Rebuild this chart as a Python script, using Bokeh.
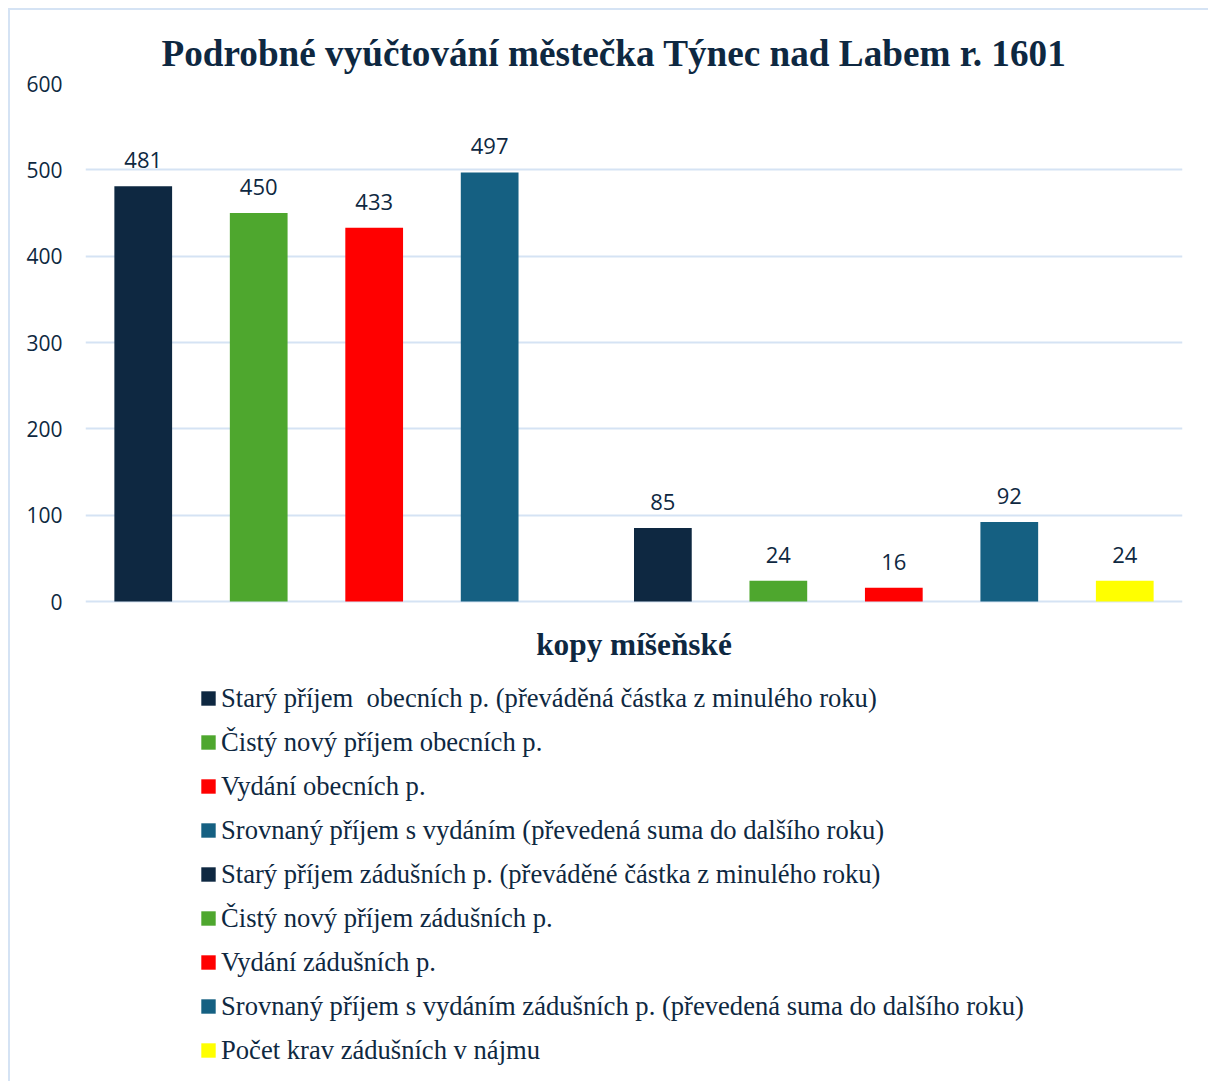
from bokeh.plotting import figure
from bokeh.models import Legend, LegendItem, FixedTicker, ColumnDataSource, Label
from bokeh.core.properties import value
from bokeh.embed import file_html
from bokeh.resources import INLINE

title_text = "Podrobné vyúčtování městečka Týnec nad Labem r. 1601"
x_title = "kopy míšeňské"

series_names = [
    "Starý příjem  obecních p. (převáděná částka z minulého roku)",
    "Čistý nový příjem obecních p.",
    "Vydání obecních p.",
    "Srovnaný příjem s vydáním (převedená suma do dalšího roku)",
    "Starý příjem zádušních p. (převáděné částka z minulého roku)",
    "Čistý nový příjem zádušních p.",
    "Vydání zádušních p.",
    "Srovnaný příjem s vydáním zádušních p. (převedená suma do dalšího roku)",
    "Počet krav zádušních v nájmu",
]
series_values = [481, 450, 433, 497, 85, 24, 16, 92, 24]
series_group = [0, 0, 0, 0, 1, 1, 1, 1, 1]
series_colors = ["#0E2841", "#4EA72E", "#FF0000", "#156082",
                 "#0E2841", "#4EA72E", "#FF0000", "#156082", "#FFFF00"]
y_ticks = [0, 100, 200, 300, 400, 500, 600]

TEXT = "#0E2841"
GRID = "#D5E3F4"

# layout (pixels)
PLOT_H = 518          # height of the 0..600 value area
BELOW_H = 478         # space below the value area for axis title + legend
px_per_unit = PLOT_H / 600.0
y_min = -BELOW_H / px_per_unit

p = figure(
    frame_width=1097, frame_height=PLOT_H + BELOW_H,
    x_range=(-0.5, 9.0), y_range=(y_min, 600),
    x_axis_location=None,
    output_backend="svg", toolbar_location=None,
    min_border_left=75, min_border_right=26, min_border_top=73, min_border_bottom=2,
    background_fill_color="white", border_fill_color="white",
)
p.styles = {"margin-left": "8px", "margin-top": "8px",
            "border-left": f"2px solid {GRID}", "border-top": f"2px solid {GRID}"}

p.title.text = title_text
p.title.align = "left"
p.title.offset = 76
p.title.text_font = "Liberation Serif"
p.title.text_font_style = "bold"
p.title.text_font_size = "37.2px"
p.title.text_color = TEXT
p.title.standoff = 20

xs = [i + 0.5 * g for i, g in enumerate(series_group)]
items = []
for i, (name, v, c, x) in enumerate(zip(series_names, series_values, series_colors, xs)):
    src = ColumnDataSource(dict(x=[x], top=[v], lab=[str(v)]))
    r = p.vbar(x="x", top="top", width=0.5, source=src, fill_color=c, line_color=None)
    p.text(x="x", y="top", text="lab", source=src, text_align="center",
           text_baseline="alphabetic", y_offset=-26,
           text_font=value("Open Sans"), text_font_size="22px", text_color=TEXT)
    items.append(LegendItem(label=name, renderers=[r]))

p.outline_line_color = None
p.xgrid.grid_line_color = None
p.ygrid.grid_line_color = GRID
p.ygrid.grid_line_width = 2
p.ygrid.ticker = FixedTicker(ticks=y_ticks)

p.yaxis.ticker = FixedTicker(ticks=y_ticks)
p.yaxis.axis_line_color = None
p.yaxis.major_tick_line_color = None
p.yaxis.minor_tick_line_color = None
p.yaxis.major_label_text_font = "Open Sans"
p.yaxis.major_label_text_font_size = "21px"
p.yaxis.major_label_text_color = TEXT
p.yaxis.major_label_standoff = 17

# horizontal axis title, centred under the bars
p.add_layout(Label(x=(p.x_range.start + p.x_range.end) / 2, y=0,
                   y_offset=-43, text=x_title, text_align="center",
                   text_baseline="middle", text_font="Liberation Serif",
                   text_font_style="bold", text_font_size="31.3px", text_color=TEXT))

legend = Legend(items=items, location=(114, 13), orientation="vertical",
                label_text_font="Liberation Serif", label_text_font_size="26.6px",
                label_text_color=TEXT, glyph_width=18, glyph_height=18,
                label_height=32, label_standoff=4, spacing=12, padding=6, margin=0,
                border_line_color=None, background_fill_alpha=0)
p.add_layout(legend, "center")

open("out.html", "w").write(file_html(p, INLINE))
